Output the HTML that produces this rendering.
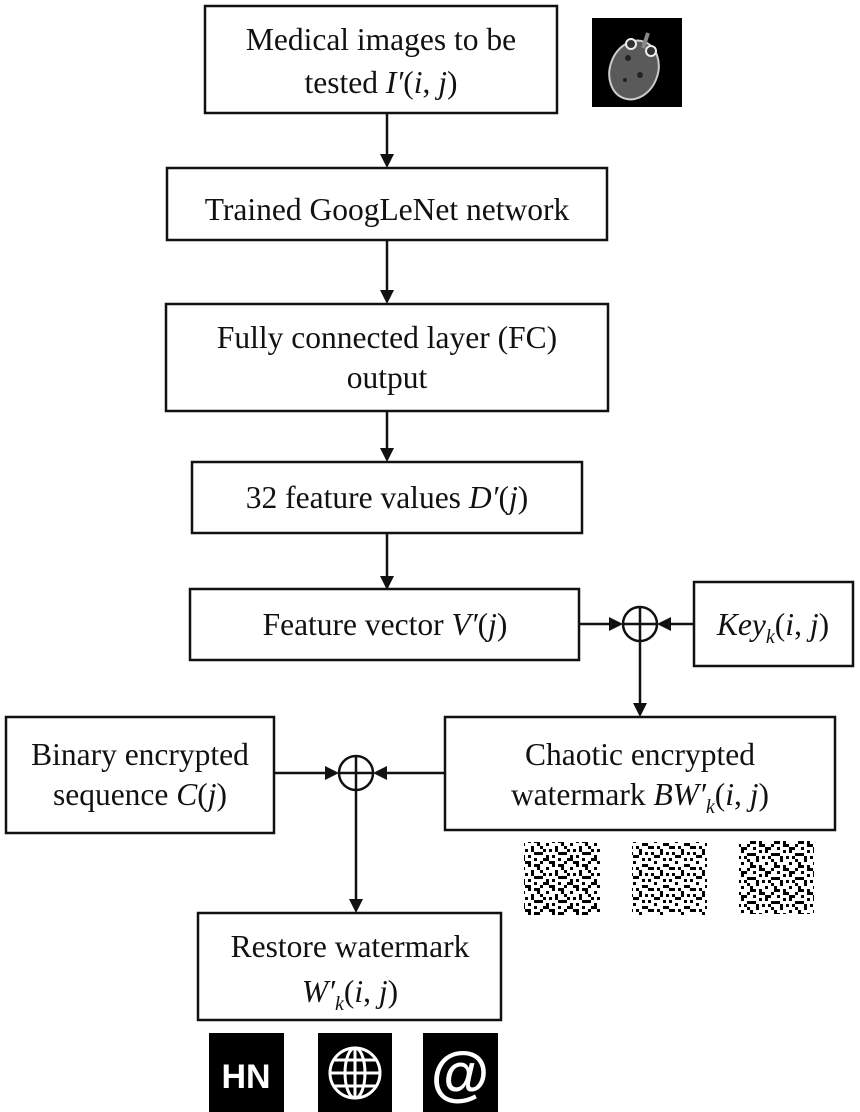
<!DOCTYPE html>
<html><head><meta charset="utf-8"><style>
html,body{margin:0;padding:0;background:#fff;}
svg{display:block;}
text{font-family:"Liberation Serif",serif;font-size:31.5px;fill:#111;}
.m{font-style:italic;}
</style></head><body>
<svg width="860" height="1112" viewBox="0 0 860 1112" xmlns="http://www.w3.org/2000/svg">
<defs>
<pattern id="nz" width="24" height="24" patternUnits="userSpaceOnUse">
<rect width="24" height="24" fill="#fff"/>
<rect x="0" y="0" width="3" height="3" fill="#000"/><rect x="6" y="0" width="6" height="3" fill="#000"/><rect x="18" y="3" width="3" height="3" fill="#000"/>
<rect x="3" y="6" width="3" height="6" fill="#000"/><rect x="12" y="6" width="3" height="3" fill="#000"/><rect x="21" y="9" width="3" height="3" fill="#000"/>
<rect x="9" y="12" width="6" height="3" fill="#000"/><rect x="0" y="15" width="3" height="3" fill="#000"/><rect x="18" y="15" width="3" height="6" fill="#000"/>
<rect x="6" y="18" width="3" height="3" fill="#000"/><rect x="12" y="21" width="3" height="3" fill="#000"/><rect x="15" y="9" width="3" height="3" fill="#000"/>
<rect x="0" y="21" width="3" height="3" fill="#000"/><rect x="9" y="3" width="3" height="3" fill="#000"/>
<rect x="15" y="18" width="3" height="3" fill="#000"/><rect x="21" y="21" width="3" height="3" fill="#000"/><rect x="6" y="12" width="3" height="3" fill="#000"/>
</pattern>
<pattern id="nz2" width="21" height="21" patternUnits="userSpaceOnUse">
<rect width="21" height="21" fill="#fff"/>
<rect x="3" y="0" width="3" height="3" fill="#000"/><rect x="12" y="3" width="6" height="3" fill="#000"/><rect x="0" y="6" width="3" height="3" fill="#000"/>
<rect x="9" y="9" width="3" height="6" fill="#000"/><rect x="15" y="12" width="3" height="3" fill="#000"/><rect x="3" y="15" width="6" height="3" fill="#000"/>
<rect x="18" y="18" width="3" height="3" fill="#000"/><rect x="12" y="18" width="3" height="3" fill="#000"/><rect x="6" y="6" width="3" height="3" fill="#000"/>
<rect x="18" y="6" width="3" height="3" fill="#000"/><rect x="0" y="12" width="3" height="3" fill="#000"/>
</pattern>
</defs>
<g fill="none" stroke="#111" stroke-width="2.5">
<rect x="205" y="6" width="352" height="107"/>
<rect x="167" y="168" width="440" height="72"/>
<rect x="166" y="304" width="442" height="107"/>
<rect x="192" y="462" width="390" height="71"/>
<rect x="190" y="589" width="389" height="71"/>
<rect x="694" y="582" width="159" height="84"/>
<rect x="445" y="717" width="390" height="113"/>
<rect x="6" y="717" width="268" height="116"/>
<rect x="198" y="913" width="303" height="107"/>
<circle cx="640" cy="624" r="17"/><line x1="623" y1="624" x2="657" y2="624"/><line x1="640" y1="607" x2="640" y2="641"/>
<circle cx="356" cy="773" r="17"/><line x1="339" y1="773" x2="373" y2="773"/><line x1="356" y1="756" x2="356" y2="790"/>
<line x1="387" y1="113" x2="387" y2="156"/>
<line x1="387" y1="240" x2="387" y2="292"/>
<line x1="387" y1="411" x2="387" y2="450"/>
<line x1="387" y1="533" x2="387" y2="578"/>
<line x1="579" y1="624" x2="612" y2="624"/>
<line x1="694" y1="624" x2="668" y2="624"/>
<line x1="640" y1="641" x2="640" y2="705"/>
<line x1="274" y1="773" x2="328" y2="773"/>
<line x1="445" y1="773" x2="384" y2="773"/>
<line x1="356" y1="790" x2="356" y2="901"/>
</g>
<g fill="#111">
<polygon points="380,154 394,154 387,168"/>
<polygon points="380,290 394,290 387,304"/>
<polygon points="380,448 394,448 387,462"/>
<polygon points="380,576 394,576 387,590"/>
<polygon points="609,617 609,631 623,624"/>
<polygon points="671,617 671,631 657,624"/>
<polygon points="633,703 647,703 640,717"/>
<polygon points="325,766 325,780 339,773"/>
<polygon points="387,766 387,780 373,773"/>
<polygon points="349,899 363,899 356,913"/>
</g>
<text x="381" y="50" text-anchor="middle">Medical images to be</text>
<text x="381" y="93" text-anchor="middle">tested  <tspan class="m">I′</tspan>(<tspan class="m">i</tspan>, <tspan class="m">j</tspan>)</text>
<text x="387" y="220" text-anchor="middle">Trained GoogLeNet network</text>
<text x="387" y="348" text-anchor="middle">Fully connected layer (FC)</text>
<text x="387" y="388" text-anchor="middle">output</text>
<text x="387" y="508" text-anchor="middle">32 feature values  <tspan class="m">D′</tspan>(<tspan class="m">j</tspan>)</text>
<text x="385" y="635" text-anchor="middle">Feature vector  <tspan class="m">V′</tspan>(<tspan class="m">j</tspan>)</text>
<text x="773" y="635" text-anchor="middle"><tspan class="m">Key</tspan><tspan class="m" font-size="20" dy="8">k</tspan><tspan dy="-8">(</tspan><tspan class="m">i</tspan>, <tspan class="m">j</tspan>)</text>
<text x="640" y="765" text-anchor="middle">Chaotic encrypted</text>
<text x="640" y="805" text-anchor="middle">watermark  <tspan class="m">BW′</tspan><tspan class="m" font-size="20" dy="8">k</tspan><tspan dy="-8">(</tspan><tspan class="m">i</tspan>, <tspan class="m">j</tspan>)</text>
<text x="140" y="765" text-anchor="middle">Binary encrypted</text>
<text x="140" y="805" text-anchor="middle">sequence  <tspan class="m">C</tspan>(<tspan class="m">j</tspan>)</text>
<text x="350" y="957" text-anchor="middle">Restore watermark</text>
<text x="350" y="1002" text-anchor="middle"><tspan class="m">W′</tspan><tspan class="m" font-size="20" dy="8">k</tspan><tspan dy="-8">(</tspan><tspan class="m">i</tspan>, <tspan class="m">j</tspan>)</text>
<!-- brain -->
<rect x="592" y="18" width="90" height="89" fill="#000"/>
<ellipse cx="634" cy="70" rx="24" ry="30" transform="rotate(20 634 70)" fill="#5a5a5a" stroke="#ccc" stroke-width="2"/>
<circle cx="628" cy="58" r="3" fill="#222"/><circle cx="640" cy="75" r="3" fill="#222"/><circle cx="625" cy="80" r="2" fill="#222"/>
<circle cx="631" cy="44" r="5" fill="#333" stroke="#eee" stroke-width="2"/><circle cx="651" cy="51" r="5" fill="#333" stroke="#eee" stroke-width="2"/>
<line x1="643" y1="48" x2="648" y2="33" stroke="#888" stroke-width="4"/>
<!-- noise -->
<rect x="524" y="842" width="76" height="73" fill="url(#nz)"/>
<rect x="632" y="842" width="75" height="73" fill="url(#nz2)"/>
<rect x="740" y="842" width="75" height="73" fill="url(#nz)" transform="rotate(180 777 878)"/>
<!-- icons -->
<rect x="209" y="1033" width="75" height="79" fill="#000"/>
<text x="246" y="1088" text-anchor="middle" style="font-family:'Liberation Sans',sans-serif;font-weight:bold;font-size:34px;fill:#fff">HN</text>
<rect x="318" y="1033" width="74" height="79" fill="#000"/>
<g stroke="#fff" stroke-width="3" fill="none"><circle cx="355" cy="1073" r="25"/><ellipse cx="355" cy="1073" rx="10" ry="25"/><line x1="330" y1="1073" x2="380" y2="1073"/><line x1="355" y1="1048" x2="355" y2="1098"/><line x1="334" y1="1060" x2="376" y2="1060"/><line x1="334" y1="1086" x2="376" y2="1086"/></g>
<rect x="423" y="1033" width="75" height="79" fill="#000"/>
<text x="460" y="1094" text-anchor="middle" style="font-family:'Liberation Sans',sans-serif;font-weight:bold;font-size:60px;fill:#fff">@</text>
</svg>
</body></html>
